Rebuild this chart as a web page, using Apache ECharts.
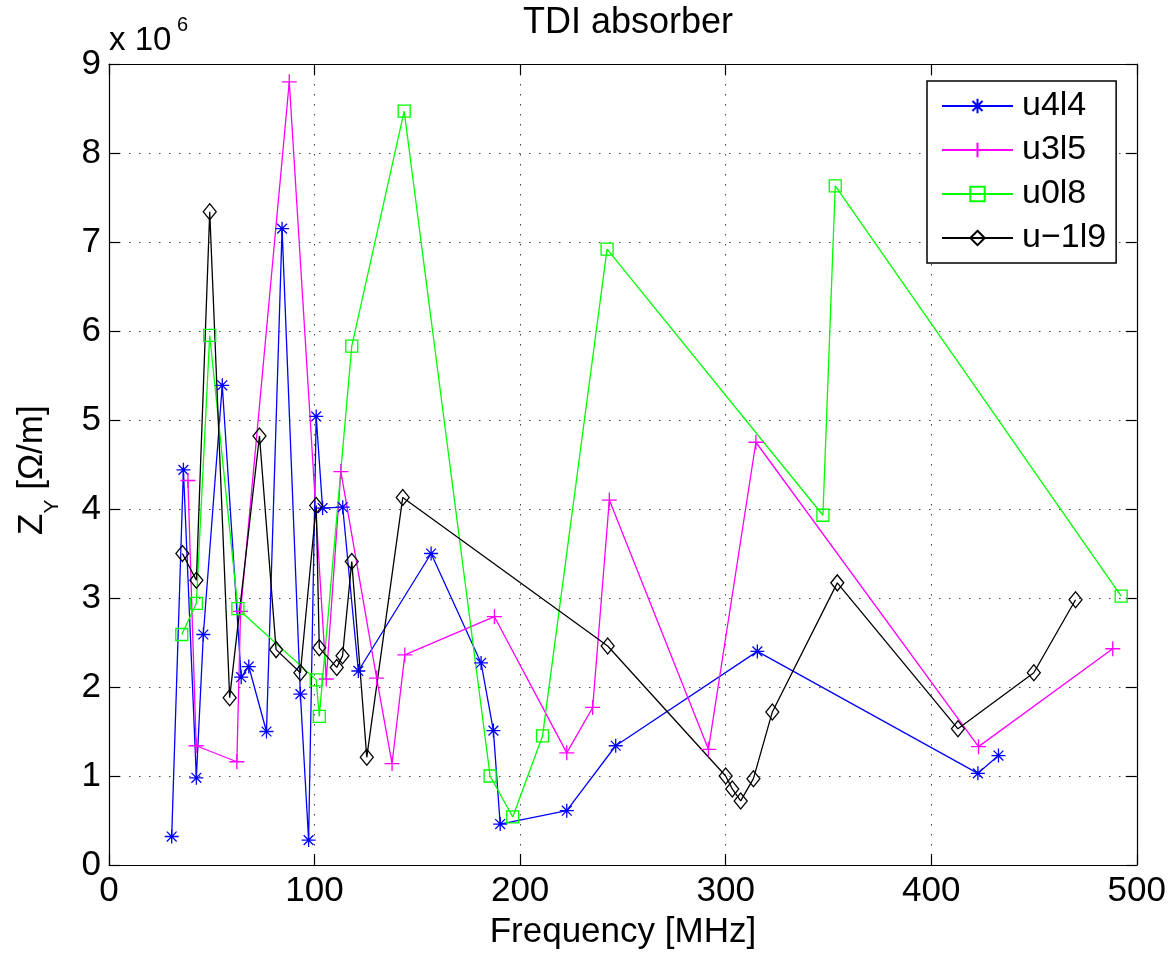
<!DOCTYPE html>
<html>
<head>
<meta charset="utf-8">
<script src="https://cdn.jsdelivr.net/npm/echarts@6/dist/echarts.min.js"></script>
<style>html,body{margin:0;padding:0;background:#fff}#chart{width:1169px;height:955px}</style>
</head>
<body>
<div id="chart"></div>
<script>
// ---- data (values in units of 10^6 Ohm/m, frequency in MHz) ----
const seriesNames = ['u4l4', 'u3l5', 'u0l8', 'u\u22121l9'];

const freqU4L4 = [30.5, 36.2, 42.5, 45.9, 55.1, 64.3, 68.0, 76.6, 84.2, 93.1, 97.1, 100.8, 103.9, 113.7, 121.3, 156.7, 181.0, 187.0, 190.3, 222.7, 246.5, 315.4, 422.7, 432.7];
const zU4L4    = [0.32, 4.44, 0.98, 2.59, 5.39, 2.11, 2.23, 1.50, 7.15, 1.92, 0.28, 5.04, 4.01, 4.02, 2.18, 3.50, 2.27, 1.51, 0.46, 0.61, 1.34, 2.40, 1.03, 1.23];

const freqU3L5 = [38.4, 42.4, 62.2, 64.0, 87.7, 105.7, 112.8, 130.2, 137.7, 143.9, 187.5, 222.7, 235.3, 243.4, 291.6, 314.7, 423.0, 488.3];
const zU3L5    = [4.32, 1.34, 1.16, 2.85, 8.80, 2.09, 4.42, 2.10, 1.14, 2.36, 2.79, 1.26, 1.77, 4.10, 1.30, 4.75, 1.33, 2.43];

const freqU0L8 = [35.4, 42.5, 49.0, 62.7, 100.8, 102.3, 118.1, 143.6, 185.4, 196.4, 210.9, 242.3, 347.3, 353.3, 492.4];
const zU0L8    = [2.59, 2.94, 5.95, 2.88, 2.08, 1.67, 5.83, 8.47, 1.00, 0.54, 1.45, 6.92, 3.93, 7.63, 3.02];

const freqUm1L9 = [35.7, 42.5, 49.0, 58.7, 73.2, 81.3, 93.1, 100.8, 102.3, 110.8, 113.6, 118.1, 125.4, 142.9, 242.6, 300.0, 303.2, 307.3, 313.5, 322.7, 354.3, 413.0, 449.9, 470.2];
const zUm1L9    = [3.50, 3.20, 7.34, 1.88, 4.82, 2.42, 2.16, 4.04, 2.44, 2.22, 2.35, 3.41, 1.21, 4.13, 2.46, 1.00, 0.855, 0.72, 0.97, 1.72, 3.17, 1.53, 2.16, 2.98];

const xTicks = [0, 100, 200, 300, 400, 500];
const yTicks = [0, 1, 2, 3, 4, 5, 6, 7, 8, 9];

// ---- chart ----
const FONT = 'Liberation Sans';
const pair = (f, z) => f.map((x, i) => [x, z[i]]);
const STAR = 'path://M10,0L10,20M0,10L20,10M3,3L17,17M3,17L17,3';
const PLUS = 'path://M10,0L10,20M0,10L20,10';
const SQUARE = 'path://M0,0L20,0L20,20L0,20Z';
const DIAMOND = 'path://M10,0L20,10L10,20L0,10Z';

function mk(name, data, color, symbol, size) {
  return {
    name, type: 'line', data, symbol, symbolSize: size, showAllSymbol: true,
    silent: true, animation: false,
    lineStyle: { color, width: 1.3 },
    itemStyle: { color: 'rgba(0,0,0,0)', borderColor: color, borderWidth: 1.3 },
    emphasis: { disabled: true }
  };
}

const gridLine = { show: true, lineStyle: { color: '#444', width: 1, type: [1.5, 8.5] } };
const axisLineStyle = { show: true, onZero: false, lineStyle: { color: '#000', width: 1.2 } };
const tickStyle = { show: true, inside: true, length: 11, lineStyle: { color: '#000', width: 1.2 } };

const chart = echarts.init(document.getElementById('chart'));
chart.setOption({
  backgroundColor: '#fff',
  animation: false,
  textStyle: { fontFamily: FONT },
  title: {
    text: 'TDI absorber', left: 623, top: 0, textAlign: 'center',
    textStyle: { fontFamily: FONT, fontSize: 36, fontWeight: 'normal', color: '#000' }
  },
  grid: { left: 109, right: 32, top: 64, bottom: 86, containLabel: false },
  legend: {
    data: seriesNames, orient: 'vertical', left: 927, top: 81,
    backgroundColor: '#fff', borderColor: '#000', borderWidth: 1.5,
    padding: [8, 10, 8, 14], itemWidth: 71, itemHeight: 18, itemGap: 10,
    textStyle: { fontFamily: FONT, fontSize: 34, color: '#000', padding: [0, 0, 0, 4] }
  },
  xAxis: [{
    type: 'value', min: xTicks[0], max: xTicks[xTicks.length - 1], interval: 100,
    name: 'Frequency [MHz]', nameLocation: 'middle', nameGap: 50,
    nameTextStyle: { fontFamily: FONT, fontSize: 35, color: '#000' },
    axisLine: axisLineStyle, axisTick: tickStyle, splitLine: gridLine,
    axisLabel: { fontFamily: FONT, fontSize: 35, color: '#000', margin: 9 }
  }, {
    type: 'value', position: 'top', min: xTicks[0], max: xTicks[xTicks.length - 1], interval: 100,
    axisLine: axisLineStyle, axisTick: tickStyle, splitLine: { show: false }, axisLabel: { show: false }
  }],
  yAxis: [{
    type: 'value', min: yTicks[0], max: yTicks[yTicks.length - 1], interval: 1,
    axisLine: axisLineStyle, axisTick: tickStyle, splitLine: gridLine,
    axisLabel: { fontFamily: FONT, fontSize: 35, color: '#000', margin: 8 }
  }, {
    type: 'value', position: 'right', min: yTicks[0], max: yTicks[yTicks.length - 1], interval: 1,
    axisLine: axisLineStyle, axisTick: tickStyle, splitLine: { show: false }, axisLabel: { show: false }
  }],
  series: [
    mk(seriesNames[0], pair(freqU4L4, zU4L4), '#0000ff', STAR, 14),
    mk(seriesNames[1], pair(freqU3L5, zU3L5), '#ff00ff', PLUS, 15),
    mk(seriesNames[2], pair(freqU0L8, zU0L8), '#00ff00', SQUARE, 12),
    mk(seriesNames[3], pair(freqUm1L9, zUm1L9), '#000000', DIAMOND, [13, 16])
  ],
  graphic: [
    { type: 'text', x: 109, y: 41, silent: true,
      style: { text: 'x 10', fontFamily: FONT, fontSize: 33, fill: '#000', align: 'left', verticalAlign: 'middle' } },
    { type: 'text', x: 177, y: 25, silent: true,
      style: { text: '6', fontFamily: FONT, fontSize: 20, fill: '#000', align: 'left', verticalAlign: 'middle' } },
    { type: 'group', x: 32.5, y: 466.5, rotation: Math.PI / 2, silent: true, children: [
      { type: 'text', x: -68.5, y: 0, style: { text: 'Z', fontFamily: FONT, fontSize: 35, fill: '#000', align: 'left', verticalAlign: 'middle' } },
      { type: 'text', x: -47, y: 20, style: { text: 'Y', fontFamily: FONT, fontSize: 21, fill: '#000', align: 'left', verticalAlign: 'middle' } },
      { type: 'text', x: -33, y: 0, style: { text: ' [\u03A9/m]', fontFamily: FONT, fontSize: 35, fill: '#000', align: 'left', verticalAlign: 'middle' } }
    ] }
  ]
});
</script>
</body>
</html>
